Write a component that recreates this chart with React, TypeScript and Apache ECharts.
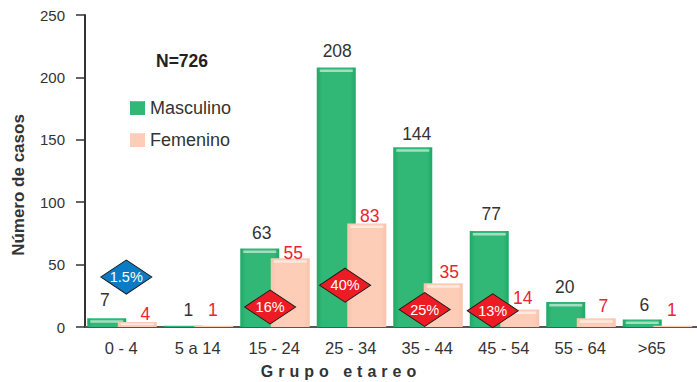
import React, { useEffect, useRef } from "react";
import * as echarts from "echarts";

const categories = ["0 - 4", "5 a 14", "15 - 24", "25 - 34", "35 - 44", "45 - 54", "55 - 64", ">65"];
const maleCases = [7, 1, 63, 208, 144, 77, 20, 6];
const femaleCases = [4, 1, 55, 83, 35, 14, 7, 1];

// Hand placement of the value labels relative to the top centre of each bar.
const maleLabelNudge = [[-2, -18], [5, -16], [2, -15], [1, -16], [4, -13], [2, -17], [-1, -15], [2, -15]];
const femaleLabelNudge = [[8, -8], [-1, -16], [3, -5], [3, -7], [6, -11], [3, -12], [7, -12], [-1, -16]];

// Share callouts: position along the category band, height on the value axis, text, fill.
const shareBandPos = [0.54, 2.42, 3.4, 4.44, 5.33];
const shareHeight = [40, 16, 33.5, 14, 13];
const shareText = ["1.5%", "16%", "40%", "25%", "13%"];
const shareFill = ["#0a7cc5", "#ed1c24", "#ed1c24", "#ed1c24", "#ed1c24"];

const GREEN = "#31b876";
const GREEN_EDGE = "#1fa866";
const PEACH = "#fdcdb8";
const PEACH_EDGE = "#f8c4ac";
const INK = "#333333";
const RED = "#ed2330";
const FONT = "Liberation Sans, Arial, sans-serif";
const BAR_WIDTH = 39;

const sheen = (mid: string, edge: string) =>
  new echarts.graphic.LinearGradient(0, 0, 1, 0, [
    { offset: 0, color: edge },
    { offset: 0.14, color: mid },
    { offset: 0.86, color: mid },
    { offset: 1, color: edge },
  ]);

function barSeries(
  name: string,
  values: number[],
  offset: number,
  mid: string,
  edge: string,
  labelColor: string,
  nudges: number[][],
  z: number
) {
  return {
    type: "custom",
    name,
    z,
    xAxisIndex: 0,
    yAxisIndex: 0,
    itemStyle: { color: mid },
    data: values.map((v, i) => [i, v]),
    encode: { x: 0, y: 1 },
    clip: false,
    renderItem: (params: any, api: any) => {
      const i = api.value(0);
      const v = api.value(1);
      const top = api.coord([i, v]);
      const base = api.coord([i, 0]);
      const x = top[0] + offset;
      const h = base[1] - top[1];
      const nudge = nudges[params.dataIndex];
      const children: any[] = [
        { type: "rect", shape: { x, y: top[1], width: BAR_WIDTH, height: h }, style: { fill: sheen(mid, edge) } },
      ];
      if (h > 3) {
        children.push({
          type: "rect",
          shape: { x: x + 3, y: top[1] + Math.min(2, h / 4), width: BAR_WIDTH - 6, height: Math.min(2.5, h / 3) },
          style: { fill: "rgba(255,255,255,0.55)" },
        });
      }
      children.push({
        type: "text",
        z2: 5,
        style: {
          x: x + BAR_WIDTH / 2 + nudge[0],
          y: top[1] + nudge[1],
          text: String(v),
          fill: labelColor,
          font: `17.5px ${FONT}`,
          align: "center",
          verticalAlign: "middle",
        },
      });
      return { type: "group", children };
    },
  };
}

export default function App() {
  const ref = useRef<HTMLDivElement>(null);

  useEffect(() => {
    document.body.style.margin = "0";
    const chart = echarts.init(ref.current!, undefined, { renderer: "svg" });
    chart.setOption({
      animation: false,
      backgroundColor: "#ffffff",
      textStyle: { fontFamily: FONT },
      grid: { left: 85, top: 15, width: 612, height: 312, containLabel: false, outerBoundsMode: "none" },
      legend: {
        orient: "vertical",
        left: 125,
        top: 94,
        itemWidth: 15,
        itemHeight: 14,
        itemGap: 14,
        icon: "rect",
        textStyle: { color: INK, fontSize: 18, fontFamily: FONT },
        data: ["Masculino", "Femenino"],
      },
      xAxis: [
        {
          type: "category",
          data: categories,
          axisLine: { onZero: false, lineStyle: { color: "#555555", width: 2 } },
          axisTick: { alignWithLabel: false, length: 8, lineStyle: { color: "#333333", width: 1.5 } },
          axisLabel: {
            color: INK,
            fontSize: 16.5,
            margin: 12,
            padding: [0, 4, 0, 0],
            interval: 0,
            formatter: (v: string) => (v === ">65" ? `{last|${v}}` : v),
            rich: { last: { color: INK, fontSize: 16.5, padding: [0, 10, 0, 0] } },
          },
          name: "Grupo etareo",
          nameLocation: "middle",
          nameGap: 36,
          nameTextStyle: { color: INK, fontSize: 16, fontWeight: "bold", padding: [0, 100, 0, 0] },
        },
        { type: "value", min: 0, max: 8, show: false },
      ],
      yAxis: {
        type: "value",
        min: 0,
        max: 250,
        interval: 50,
        splitLine: { show: false },
        axisLine: { show: true, lineStyle: { color: "#333333", width: 2 } },
        axisTick: { show: true, length: 9, lineStyle: { color: "#333333", width: 1.5 } },
        axisLabel: { color: INK, fontSize: 15, margin: 20 },
        name: "Número de casos",
        nameLocation: "middle",
        nameGap: 58,
        nameTextStyle: { color: INK, fontSize: 17, fontWeight: "bold", padding: [0, 28, 0, 0] },
      },
      series: [
        barSeries("Masculino", maleCases, -36, GREEN, GREEN_EDGE, INK, maleLabelNudge, 2),
        barSeries("Femenino", femaleCases, -5.5, PEACH, PEACH_EDGE, RED, femaleLabelNudge, 3),
        {
          type: "scatter",
          xAxisIndex: 1,
          yAxisIndex: 0,
          z: 6,
          symbol: "diamond",
          symbolSize: [51, 34],
          data: shareBandPos.map((p, i) => ({
            value: [p, shareHeight[i]],
            itemStyle: { color: shareFill[i], borderColor: "#1a1a1a", borderWidth: 1, opacity: 1 },
            label: { formatter: shareText[i] },
          })),
          label: { show: true, position: "inside", color: "#ffffff", fontSize: 14.5, fontFamily: FONT },
        },
      ],
      graphic: [
        {
          type: "text",
          x: 156,
          y: 52,
          style: { text: "N=726", fill: "#222222", font: `bold 17.5px ${FONT}` },
        },
        { type: "rect", z: 20, shape: { x: 131, y: 100, width: 13, height: 1.5 }, style: { fill: "rgba(255,255,255,0.45)" } },
        { type: "rect", z: 20, shape: { x: 131, y: 132, width: 13, height: 1.5 }, style: { fill: "rgba(255,255,255,0.55)" } },
      ],
    });
    // Wide tracking on the horizontal axis title.
    ref.current!.querySelectorAll("text").forEach((t) => {
      if (t.textContent === "Grupo etareo") t.setAttribute("letter-spacing", "5");
    });
    return () => chart.dispose();
  }, []);

  return <div ref={ref} style={{ position: "fixed", left: 0, top: 0, width: 697, height: 382 }} />;
}
